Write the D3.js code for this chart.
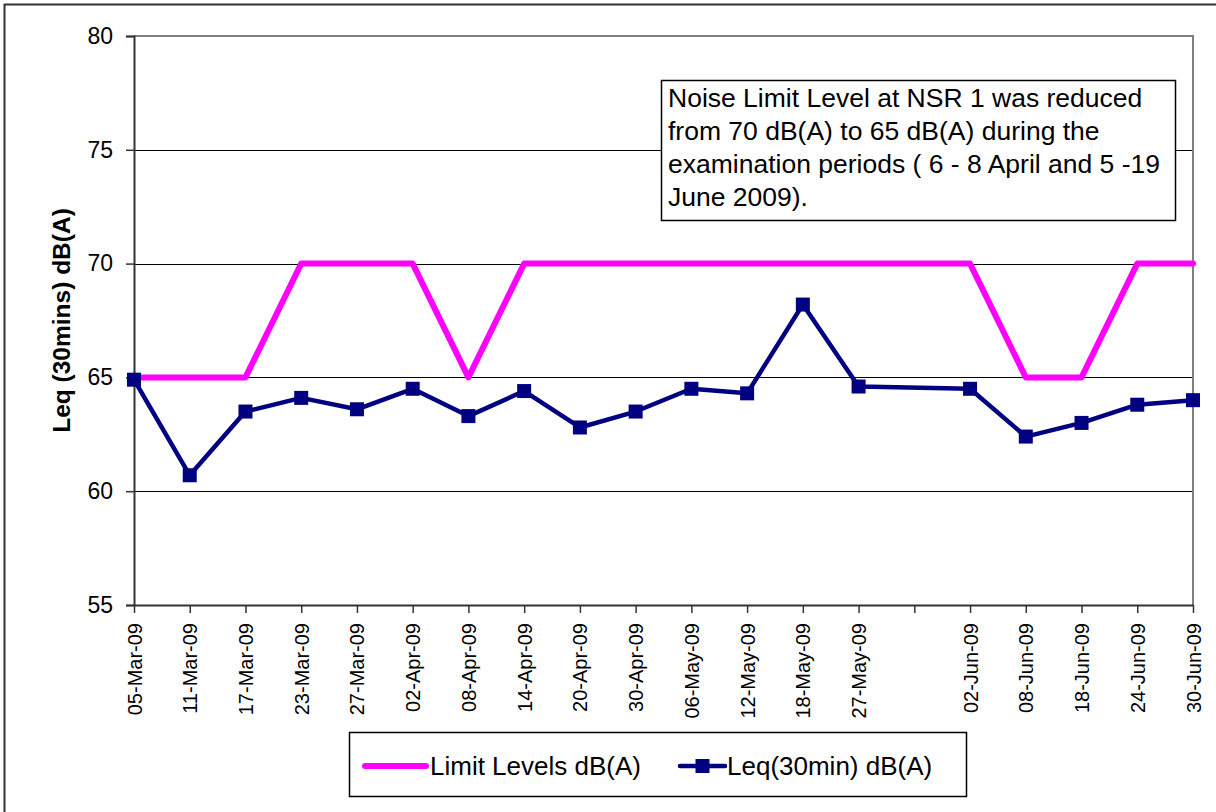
<!DOCTYPE html>
<html>
<head>
<meta charset="utf-8">
<script src="https://cdn.jsdelivr.net/npm/d3@7/dist/d3.min.js"></script>
<style>
  html, body { margin: 0; padding: 0; background: #fff; }
  svg { display: block; font-family: "Liberation Sans", Arial, sans-serif; }
</style>
</head>
<body>
<div id="chart"></div>
<script>
// dates on the category axis (one empty slot between 27-May and 02-Jun)
const categories = ["05-Mar-09", "11-Mar-09", "17-Mar-09", "23-Mar-09", "27-Mar-09", "02-Apr-09",
    "08-Apr-09", "14-Apr-09", "20-Apr-09", "30-Apr-09", "06-May-09", "12-May-09", "18-May-09",
    "27-May-09", " ", "02-Jun-09", "08-Jun-09", "18-Jun-09", "24-Jun-09", "30-Jun-09"];

const limitLevels = [65, 65, 65, 70, 70, 70, 65, 70, 70, 70, 70, 70, 70, 70, null, 70, 65, 65, 70, 70];
const leqValues = [64.9, 60.7, 63.5, 64.1, 63.6, 64.5, 63.3, 64.4, 62.8, 63.5, 64.5, 64.3, 68.2,
    64.6, null, 64.5, 62.4, 63.0, 63.8, 64.0];

const yTicks = [55, 60, 65, 70, 75, 80];

const seriesNames = ["Limit Levels dB(A)", "Leq(30min) dB(A)"];

const noteLines = [
    "Noise Limit Level at NSR 1 was reduced",
    "from 70 dB(A) to 65 dB(A) during the",
    "examination periods ( 6 - 8 April and 5 -19",
    "June 2009)."
];

const width = 1216;
const height = 812;
const plot = { left: 134, right: 1193, top: 36, bottom: 605 };

const svg = d3.select("#chart")
    .append("svg")
    .attr("width", width)
    .attr("height", height);

// outer chart border
svg.append("rect")
    .attr("x", 4.5)
    .attr("y", 4.5)
    .attr("width", width + 10)
    .attr("height", height + 10)
    .attr("fill", "#fff")
    .attr("stroke", "#333")
    .attr("stroke-width", 2);

const x = d3.scalePoint()
    .domain(categories)
    .range([plot.left, plot.right]);

const y = d3.scaleLinear()
    .domain([55, 80])
    .range([plot.bottom, plot.top]);

// gridlines
svg.append("g")
    .selectAll("line")
    .data(yTicks.filter(d => d > 55 && d < 80))
    .join("line")
    .attr("x1", plot.left)
    .attr("x2", plot.right)
    .attr("y1", d => Math.round(y(d)) + 0.5)
    .attr("y2", d => Math.round(y(d)) + 0.5)
    .attr("stroke", "#000")
    .attr("stroke-width", 1);

// top and right border of the plot area
svg.append("path")
    .attr("d", `M${plot.left},${plot.top}H${plot.right}V${plot.bottom}`)
    .attr("fill", "none")
    .attr("stroke", "#808080")
    .attr("stroke-width", 2);

// y axis
const yAxis = svg.append("g")
    .attr("transform", `translate(${plot.left},0)`)
    .call(d3.axisLeft(y).tickValues(yTicks).tickSize(8).tickPadding(13));
yAxis.select(".domain").attr("stroke", "#333").attr("stroke-width", 2);
yAxis.selectAll(".tick line").attr("stroke", "#333").attr("stroke-width", 1.5);
yAxis.selectAll(".tick text")
    .attr("fill", "#000")
    .style("font-size", "23px");

// x axis
const xAxis = svg.append("g")
    .attr("transform", `translate(0,${plot.bottom})`)
    .call(d3.axisBottom(x).tickSize(8).tickSizeOuter(0));
xAxis.select(".domain").attr("stroke", "#333").attr("stroke-width", 2);
xAxis.selectAll(".tick line").attr("stroke", "#333").attr("stroke-width", 1.5);
xAxis.selectAll(".tick text")
    .attr("fill", "#000")
    .attr("transform", "rotate(-90)")
    .attr("x", -18)
    .attr("y", 0)
    .attr("dy", "0.35em")
    .attr("text-anchor", "end")
    .style("font-size", "20px");

// y axis title
svg.append("text")
    .attr("transform", `translate(61,${(plot.top + plot.bottom) / 2}) rotate(-90)`)
    .attr("text-anchor", "middle")
    .attr("dy", "0.35em")
    .style("font-size", "24.5px")
    .style("font-weight", "bold")
    .text("Leq (30mins) dB(A)");

// lines: missing slot is skipped so the line runs across it
const limitData = categories.map((c, i) => ({ c, v: limitLevels[i] })).filter(d => d.v !== null);
const leqData = categories.map((c, i) => ({ c, v: leqValues[i] })).filter(d => d.v !== null);

const line = d3.line()
    .x(d => x(d.c))
    .y(d => y(d.v));

svg.append("path")
    .datum(limitData)
    .attr("d", line)
    .attr("fill", "none")
    .attr("stroke", "#FF00FF")
    .attr("stroke-width", 6)
    .attr("stroke-linejoin", "round")
    .attr("stroke-linecap", "round");

svg.append("path")
    .datum(leqData)
    .attr("d", line)
    .attr("fill", "none")
    .attr("stroke", "#000080")
    .attr("stroke-width", 4.5)
    .attr("stroke-linejoin", "round");

const markerSize = 14;
svg.append("g")
    .selectAll("rect")
    .data(leqData)
    .join("rect")
    .attr("x", d => x(d.c) - markerSize / 2)
    .attr("y", d => y(d.v) - markerSize / 2)
    .attr("width", markerSize)
    .attr("height", markerSize)
    .attr("fill", "#000080");

// note box
const note = svg.append("g");
note.append("rect")
    .attr("x", 661.5)
    .attr("y", 80.5)
    .attr("width", 514)
    .attr("height", 140)
    .attr("fill", "#fff")
    .attr("stroke", "#000")
    .attr("stroke-width", 1.5);
note.selectAll("text")
    .data(noteLines)
    .join("text")
    .attr("x", 668)
    .attr("y", (d, i) => 107 + i * 33)
    .style("font-size", "26.5px")
    .text(d => d);

// legend
const legend = svg.append("g");
legend.append("rect")
    .attr("x", 349.5)
    .attr("y", 732.5)
    .attr("width", 617)
    .attr("height", 64)
    .attr("fill", "#fff")
    .attr("stroke", "#000")
    .attr("stroke-width", 1.5);

const legendY = 766;
legend.append("line")
    .attr("x1", 365).attr("x2", 426)
    .attr("y1", legendY).attr("y2", legendY)
    .attr("stroke", "#FF00FF")
    .attr("stroke-width", 6)
    .attr("stroke-linecap", "round");
legend.append("text")
    .attr("x", 430)
    .attr("y", legendY)
    .attr("dy", "0.35em")
    .style("font-size", "26px")
    .text(seriesNames[0]);

legend.append("line")
    .attr("x1", 680).attr("x2", 725)
    .attr("y1", legendY).attr("y2", legendY)
    .attr("stroke", "#000080")
    .attr("stroke-width", 4.5)
    .attr("stroke-linecap", "round");
legend.append("rect")
    .attr("x", 702.5 - markerSize / 2)
    .attr("y", legendY - markerSize / 2)
    .attr("width", markerSize)
    .attr("height", markerSize)
    .attr("fill", "#000080");
legend.append("text")
    .attr("x", 727)
    .attr("y", legendY)
    .attr("dy", "0.35em")
    .style("font-size", "26px")
    .text(seriesNames[1]);
</script>
</body>
</html>
